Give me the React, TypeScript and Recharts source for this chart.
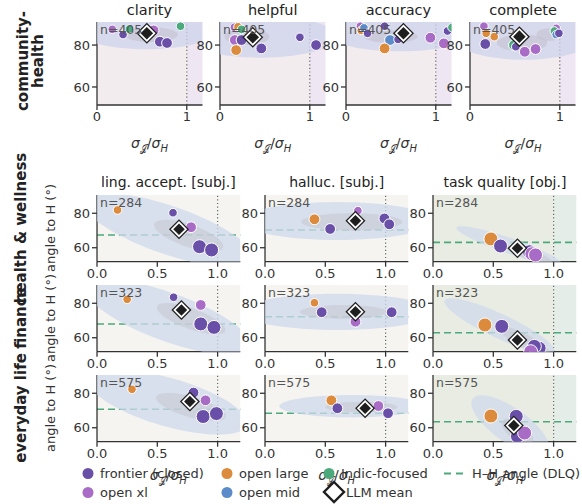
import React from 'react';
import { ScatterChart, Scatter, XAxis, YAxis, ReferenceArea, ReferenceLine } from 'recharts';

const FONT = '"DejaVu Sans", Verdana, sans-serif';

// model groups
const GROUP_COLORS: Record<string, string> = {
  F: '#6a4fa8', // frontier (closed)
  X: '#a86cc6', // open xl
  L: '#dc8a3c', // open large
  M: '#5b8bc9', // open mid
  I: '#4ba97c', // Indic-focused
};
const RADIUS: Record<string, number> = { s: 4.3, m: 5.4, l: 7 };

// top row: community-health
const topMetrics = ['clarity', 'helpful', 'accuracy', 'complete'];
const topN = [405, 405, 405, 405];

const clarityPts = [
  { g: 'X', x: 0.17, y: 87.5, s: 's' },
  { g: 'F', x: 0.29, y: 85, s: 's' },
  { g: 'I', x: 0.36, y: 87.6, s: 's' },
  { g: 'X', x: 0.63, y: 87, s: 'm' },
  { g: 'F', x: 0.7, y: 81.6, s: 'm' },
  { g: 'F', x: 0.78, y: 81, s: 'm' },
  { g: 'I', x: 0.93, y: 89, s: 's' },
];
const helpfulPts = [
  { g: 'X', x: 0.16, y: 88.5, s: 's' },
  { g: 'L', x: 0.2, y: 88.7, s: 's' },
  { g: 'I', x: 0.24, y: 87.5, s: 's' },
  { g: 'X', x: 0.165, y: 82.4, s: 'm' },
  { g: 'F', x: 0.24, y: 82.4, s: 'm' },
  { g: 'L', x: 0.18, y: 77.6, s: 'm' },
  { g: 'F', x: 0.46, y: 78.4, s: 'm' },
  { g: 'F', x: 0.89, y: 83.7, s: 's' },
  { g: 'F', x: 1.07, y: 80, s: 'm' },
];
const accuracyPts = [
  { g: 'X', x: 0.16, y: 89, s: 's' },
  { g: 'L', x: 0.17, y: 87, s: 's' },
  { g: 'M', x: 0.2, y: 88.2, s: 's' },
  { g: 'F', x: 0.24, y: 85.6, s: 's' },
  { g: 'F', x: 0.43, y: 89, s: 's' },
  { g: 'M', x: 0.49, y: 82.4, s: 'm' },
  { g: 'L', x: 0.43, y: 78.4, s: 'm' },
  { g: 'F', x: 0.58, y: 82.7, s: 's' },
  { g: 'X', x: 0.94, y: 83.5, s: 'm' },
  { g: 'X', x: 1.09, y: 80.8, s: 'm' },
  { g: 'F', x: 1.13, y: 86.7, s: 's' },
  { g: 'I', x: 1.18, y: 88.4, s: 's' },
];
const completePts = [
  { g: 'X', x: 0.155, y: 89, s: 's' },
  { g: 'L', x: 0.18, y: 85.6, s: 's' },
  { g: 'L', x: 0.27, y: 84, s: 's' },
  { g: 'F', x: 0.17, y: 80.5, s: 'm' },
  { g: 'I', x: 0.49, y: 80, s: 'm' },
  { g: 'F', x: 0.51, y: 79.2, s: 's' },
  { g: 'X', x: 0.61, y: 76.8, s: 'm' },
  { g: 'X', x: 0.73, y: 78.1, s: 'm' },
  { g: 'X', x: 0.96, y: 88, s: 's' },
  { g: 'I', x: 0.94, y: 86.7, s: 's' },
  { g: 'M', x: 0.96, y: 85, s: 's' },
  { g: 'F', x: 0.99, y: 85.6, s: 's' },
];
const topMeans = [
  { x: 0.555, y: 85.6 },
  { x: 0.365, y: 83.7 },
  { x: 0.64, y: 85.6 },
  { x: 0.55, y: 84 },
];
// density blobs: centre, semi-axes (a in x units, b in y units), tilt in degrees
const topBlobs = [
  [{ x: 0.55, y: 87, a: 0.78, b: 9, t: 0, k: 'o' }, { x: 0.6, y: 85, a: 0.3, b: 3.5, t: 0, k: 'i' }],
  [{ x: 0.45, y: 84, a: 0.85, b: 10, t: 0, k: 'o' }, { x: 0.3, y: 84, a: 0.25, b: 4, t: 0, k: 'i' }],
  [{ x: 0.6, y: 86, a: 0.82, b: 9, t: 0, k: 'o' }, { x: 0.5, y: 84, a: 0.3, b: 3, t: 0, k: 'i' }],
  [{ x: 0.6, y: 84, a: 0.8, b: 11, t: 0, k: 'o' }, { x: 0.58, y: 81, a: 0.28, b: 4, t: 0, k: 'i' }, { x: 0.88, y: 85, a: 0.14, b: 3, t: 0, k: 'i' }],
];

// bottom grid
const domains = ['health & wellness', 'finance', 'everyday life'];
const domainN = [284, 323, 575];
const criteria = ['ling. accept. [subj.]', 'halluc. [subj.]', 'task quality [obj.]'];
const hhAngle = [
  [67.4, 70.3, 63.1],
  [68, 72.2, 62.9],
  [70.7, 68.4, 63.5],
];

const hwLing = [
  { g: 'L', x: 0.17, y: 81.9, s: 's' },
  { g: 'F', x: 0.63, y: 80.3, s: 's' },
  { g: 'X', x: 0.78, y: 71.9, s: 'm' },
  { g: 'F', x: 0.85, y: 60.6, s: 'l' },
  { g: 'F', x: 0.95, y: 58.7, s: 'l' },
];
const hwHall = [
  { g: 'L', x: 0.41, y: 76.5, s: 'm' },
  { g: 'F', x: 0.54, y: 70.9, s: 'm' },
  { g: 'X', x: 0.77, y: 81.5, s: 's' },
  { g: 'F', x: 0.99, y: 77, s: 'm' },
  { g: 'F', x: 1.03, y: 73.6, s: 'm' },
];
const hwTask = [
  { g: 'L', x: 0.48, y: 65.1, s: 'l' },
  { g: 'F', x: 0.56, y: 61, s: 'l' },
  { g: 'F', x: 0.8, y: 57.7, s: 'l' },
  { g: 'X', x: 0.82, y: 56.5, s: 'l' },
  { g: 'X', x: 0.85, y: 55.8, s: 'l' },
];
const finLing = [
  { g: 'L', x: 0.25, y: 82.3, s: 's' },
  { g: 'F', x: 0.635, y: 83.5, s: 's' },
  { g: 'X', x: 0.86, y: 79, s: 'm' },
  { g: 'F', x: 0.86, y: 68, s: 'l' },
  { g: 'F', x: 0.97, y: 66, s: 'l' },
];
const finHall = [
  { g: 'L', x: 0.41, y: 80.3, s: 's' },
  { g: 'F', x: 0.47, y: 74.8, s: 'm' },
  { g: 'X', x: 0.75, y: 69.3, s: 'm' },
  { g: 'F', x: 1.05, y: 74.8, s: 'm' },
];
const finTask = [
  { g: 'L', x: 0.43, y: 67.4, s: 'l' },
  { g: 'F', x: 0.57, y: 66.6, s: 'l' },
  { g: 'F', x: 0.88, y: 53.9, s: 'l' },
  { g: 'F', x: 0.84, y: 55, s: 'l' },
  { g: 'X', x: 0.81, y: 51.9, s: 'l' },
];
const lifeLing = [
  { g: 'L', x: 0.29, y: 82.3, s: 's' },
  { g: 'F', x: 0.8, y: 80.4, s: 'm' },
  { g: 'X', x: 0.9, y: 75.9, s: 'm' },
  { g: 'F', x: 0.88, y: 66.5, s: 'l' },
  { g: 'F', x: 0.99, y: 68.2, s: 'l' },
];
const lifeHall = [
  { g: 'L', x: 0.55, y: 75.9, s: 'm' },
  { g: 'F', x: 0.6, y: 71.3, s: 'm' },
  { g: 'X', x: 0.94, y: 72.6, s: 'm' },
  { g: 'F', x: 1.02, y: 68.4, s: 'm' },
];
const lifeTask = [
  { g: 'L', x: 0.48, y: 66.8, s: 'l' },
  { g: 'F', x: 0.69, y: 66.6, s: 'l' },
  { g: 'F', x: 0.7, y: 55, s: 'l' },
  { g: 'X', x: 0.76, y: 56.9, s: 'l' },
];
const gridPts = [
  [hwLing, hwHall, hwTask],
  [finLing, finHall, finTask],
  [lifeLing, lifeHall, lifeTask],
];
const gridMeans = [
  [{ x: 0.68, y: 70.7 }, { x: 0.75, y: 75.7 }, { x: 0.7, y: 59.7 }],
  [{ x: 0.7, y: 76.1 }, { x: 0.75, y: 75.1 }, { x: 0.7, y: 58.7 }],
  [{ x: 0.77, y: 75.2 }, { x: 0.83, y: 71.3 }, { x: 0.67, y: 61.3 }],
];
const gridBlobs = [
  [
    [{ x: 0.59, y: 70.3, a: 0.74, b: 14, t: 19, k: 'o' }, { x: 0.76, y: 67, a: 0.3, b: 6.5, t: 19, k: 'i' }],
    [{ x: 0.6, y: 75.5, a: 0.8, b: 11, t: 0, k: 'o' }, { x: 0.72, y: 75, a: 0.42, b: 5, t: 0, k: 'i' }],
    [{ x: 0.63, y: 61.2, a: 0.46, b: 4.5, t: 19, k: 'o' }, { x: 0.8, y: 56, a: 0.2, b: 3, t: 19, k: 'i' }],
  ],
  [
    [{ x: 0.59, y: 72, a: 0.72, b: 14, t: 20, k: 'o' }, { x: 0.78, y: 71, a: 0.3, b: 6, t: 20, k: 'i' }],
    [{ x: 0.6, y: 75, a: 0.8, b: 10.5, t: 0, k: 'o' }, { x: 0.65, y: 75, a: 0.36, b: 4, t: 0, k: 'i' }],
    [{ x: 0.55, y: 66.8, a: 0.5, b: 7, t: 25, k: 'o' }, { x: 0.76, y: 58, a: 0.24, b: 4, t: 28, k: 'i' }],
  ],
  [
    [{ x: 0.59, y: 74.8, a: 0.68, b: 14, t: 16, k: 'o' }, { x: 0.78, y: 72, a: 0.3, b: 6, t: 16, k: 'i' }],
    [{ x: 0.72, y: 72.5, a: 0.6, b: 6.5, t: 0, k: 'o' }, { x: 0.8, y: 72, a: 0.3, b: 3, t: 0, k: 'i' }],
    [{ x: 0.64, y: 61.5, a: 0.38, b: 10, t: 35, k: 'o' }, { x: 0.7, y: 58, a: 0.15, b: 5, t: 35, k: 'i' }],
  ],
];

const legendItems = [
  { label: 'frontier (closed)', g: 'F' },
  { label: 'open large', g: 'L' },
  { label: 'Indic-focused', g: 'I' },
  { label: 'H–H angle (DLQ)', g: 'HH' },
  { label: 'open xl', g: 'X' },
  { label: 'open mid', g: 'M' },
  { label: 'LLM mean', g: 'MEAN' },
];

// layout
const TOP_LEFTS = [96.7, 220, 345.7, 470.3];
const TOP_Y = 22;
const TOP_W = 105.5;
const TOP_H = 83;
const COL_LEFTS = [96.7, 265, 433.3];
const ROW_TOPS = [195, 285, 375];
const GRID_W = 143.3;
const GRID_H = 66.7;

const ML = 46;
const MT = 6;
const MR = 6;
const MB = 28;

const diamondPath = (cx: number, cy: number, r: number) =>
  `M${cx},${cy - r}L${cx + r},${cy}L${cx},${cy + r}L${cx - r},${cy}Z`;

type Pt = [number, number];
// clip a polygon to one side of an axis-aligned edge
const clipEdge = (poly: Pt[], inside: (p: Pt) => boolean, cut: (a: Pt, b: Pt) => Pt) => {
  const out: Pt[] = [];
  for (let i = 0; i < poly.length; i++) {
    const cur = poly[i];
    const prev = poly[(i + poly.length - 1) % poly.length];
    if (inside(cur)) {
      if (!inside(prev)) out.push(cut(prev, cur));
      out.push(cur);
    } else if (inside(prev)) {
      out.push(cut(prev, cur));
    }
  }
  return out;
};
const atX = (x: number) => (a: Pt, b: Pt): Pt => [x, a[1] + ((x - a[0]) / (b[0] - a[0])) * (b[1] - a[1])];
const atY = (y: number) => (a: Pt, b: Pt): Pt => [a[0] + ((y - a[1]) / (b[1] - a[1])) * (b[0] - a[0]), y];

const ellipsePath = (cx: number, cy: number, rx: number, ry: number, tilt: number, box: number[]) => {
  const t = (tilt * Math.PI) / 180;
  let poly: Pt[] = [];
  for (let k = 0; k < 72; k++) {
    const th = (k / 72) * Math.PI * 2;
    const lx = rx * Math.cos(th);
    const ly = ry * Math.sin(th);
    poly.push([cx + lx * Math.cos(t) - ly * Math.sin(t), cy + lx * Math.sin(t) + ly * Math.cos(t)]);
  }
  const [x0, y0, x1, y1] = box;
  poly = clipEdge(poly, (p) => p[0] >= x0, atX(x0));
  poly = clipEdge(poly, (p) => p[0] <= x1, atX(x1));
  poly = clipEdge(poly, (p) => p[1] >= y0, atY(y0));
  poly = clipEdge(poly, (p) => p[1] <= y1, atY(y1));
  if (poly.length < 3) return '';
  return 'M' + poly.map((p) => `${p[0].toFixed(2)},${p[1].toFixed(2)}`).join('L') + 'Z';
};

const AxisLabel = ({ x, y }: { x: number; y: number }) => (
  <div
    style={{
      position: 'absolute',
      left: x,
      top: y,
      transform: 'translate(-50%, -50%)',
      fontFamily: FONT,
      fontSize: 14,
      color: '#333',
      whiteSpace: 'nowrap',
    }}
  >
    <i>σ</i>
    <sub style={{ fontSize: 10 }}>𝒥</sub>/<i>σ</i>
    <sub style={{ fontSize: 10 }}>
      <i>H</i>
    </sub>
  </div>
);

const VText = ({ x, y, size, bold, children }: any) => (
  <div
    style={{
      position: 'absolute',
      left: x,
      top: y,
      transform: 'translate(-50%, -50%) rotate(-90deg)',
      fontFamily: FONT,
      fontSize: size,
      fontWeight: bold ? 'bold' : 'normal',
      color: bold ? '#222' : '#333',
      whiteSpace: 'nowrap',
      textAlign: 'center',
      lineHeight: 1,
    }}
  >
    {children}
  </div>
);

interface PanelProps {
  id: string;
  left: number;
  top: number;
  w: number;
  h: number;
  xMax: number;
  yDomain: [number, number];
  xTicks: number[];
  fmt: (v: number) => string;
  pts: any[];
  mean: { x: number; y: number };
  blobs: any[];
  hh?: number;
  n: number;
  bgL: string;
  bgR: string;
  blobOuter: string;
  blobInner: string;
  meanR: number;
}

const Panel = (props: PanelProps) => {
  const { left, top, w, h, xMax, yDomain, xTicks, fmt, pts, mean, blobs, hh, n, bgL, bgR, blobOuter, blobInner, meanR } = props;
  const kx = w / xMax;
  const ky = h / (yDomain[1] - yDomain[0]);
  const box = [ML, MT, ML + w, MT + h];

  const blobShape = (p: any) => {
    const d = p.payload ?? p;
    return (
      <path
        d={ellipsePath(p.cx, p.cy, d.a * kx, d.b * ky, d.t, box)}
        fill={d.k === 'o' ? blobOuter : blobInner}
        fillOpacity={d.k === 'o' ? 0.75 : 0.6}
      />
    );
  };
  const dotShape = (p: any) => {
    const d = p.payload ?? p;
    return <circle cx={p.cx} cy={p.cy} r={RADIUS[d.s]} fill={GROUP_COLORS[d.g]} stroke="#fff" strokeWidth={1} />;
  };
  const meanShape = (p: any) => (
    <g>
      <path d={diamondPath(p.cx, p.cy, meanR)} fill="#1e1e1e" />
      <path d={diamondPath(p.cx, p.cy, meanR - 1.8)} fill="#fff" />
      <path d={diamondPath(p.cx, p.cy, meanR - 4.2)} fill="#1e1e1e" />
    </g>
  );

  const axisStyle = { stroke: '#333', strokeWidth: 1.3 };
  const tickStyle = { fill: '#333', fontSize: 13, fontFamily: FONT };

  return (
    <div style={{ position: 'absolute', left: left - ML, top: top - MT }}>
      <ScatterChart width={w + ML + MR} height={h + MT + MB} margin={{ top: MT, right: MR, bottom: 0, left: 0 }}>
        <XAxis
          type="number"
          dataKey="x"
          domain={[0, xMax]}
          ticks={xTicks}
          tickFormatter={fmt}
          allowDataOverflow
          height={MB}
          axisLine={axisStyle}
          tickLine={axisStyle}
          tickSize={5}
          tick={tickStyle}
          interval={0}
        />
        <YAxis
          type="number"
          dataKey="y"
          domain={yDomain}
          ticks={[60, 80]}
          allowDataOverflow
          width={ML}
          axisLine={axisStyle}
          tickLine={axisStyle}
          tickSize={5}
          tick={tickStyle}
          interval={0}
        />
        <ReferenceArea
          x1={0}
          x2={1}
          y1={yDomain[0]}
          y2={yDomain[1]}
          fill={bgL}
          fillOpacity={1}
          stroke="none"
          label={{ value: `n=${n}`, position: 'insideTopLeft', offset: 3, fill: '#555', fontSize: 12.5, fontFamily: FONT }}
        />
        <ReferenceArea x1={1} x2={xMax} y1={yDomain[0]} y2={yDomain[1]} fill={bgR} fillOpacity={1} stroke="none" />
        <Scatter data={blobs} shape={blobShape} isAnimationActive={false} />
        <ReferenceLine x={1} stroke="#666" strokeWidth={1.2} strokeDasharray="1.2 2.4" />
        {hh != null && <ReferenceLine y={hh} stroke="#4ba97c" strokeWidth={1.6} strokeDasharray="7 4" />}
        <Scatter data={pts} shape={dotShape} isAnimationActive={false} />
        <Scatter data={[mean]} shape={meanShape} isAnimationActive={false} />
      </ScatterChart>
    </div>
  );
};

const LegendMarker = ({ g }: { g: string }) => {
  if (g === 'HH') {
    return (
      <svg width={24} height={12}>
        <line x1={1} y1={6} x2={23} y2={6} stroke="#4ba97c" strokeWidth={1.8} strokeDasharray="7 5" />
      </svg>
    );
  }
  if (g === 'MEAN') {
    return (
      <svg width={24} height={24}>
        <path d={diamondPath(12, 12, 10)} fill="#fff" stroke="#1e1e1e" strokeWidth={2.4} />
      </svg>
    );
  }
  return (
    <svg width={14} height={14}>
      <circle cx={7} cy={7} r={5.5} fill={GROUP_COLORS[g]} />
    </svg>
  );
};

const LEGEND_POS = [
  { x: 88, y: 473 },
  { x: 227, y: 473 },
  { x: 329, y: 473 },
  { x: 450, y: 473 },
  { x: 88, y: 492 },
  { x: 227, y: 492 },
  { x: 329, y: 492 },
];

export default function App() {
  const topFmt = (v: number) => String(v);
  const gridFmt = (v: number) => v.toFixed(1);
  return (
    <div style={{ position: 'absolute', left: 0, top: 0, width: 582, height: 504, background: '#fff', overflow: 'hidden', fontFamily: FONT }}>
      {/* grid x labels sit under the next row's axes, as in the source layout */}
      {ROW_TOPS.map((t) => COL_LEFTS.map((l) => <AxisLabel key={`${t}-${l}`} x={l + GRID_W / 2} y={t + GRID_H + 35} />))}

      {/* top row */}
      {topMetrics.map((m, i) => (
        <React.Fragment key={m}>
          <Panel
            id={`top${i}`}
            left={TOP_LEFTS[i]}
            top={TOP_Y}
            w={TOP_W}
            h={TOP_H}
            xMax={1.175}
            yDomain={[51.4, 91]}
            xTicks={[0, 1]}
            fmt={topFmt}
            pts={[clarityPts, helpfulPts, accuracyPts, completePts][i]}
            mean={topMeans[i]}
            blobs={topBlobs[i]}
            n={topN[i]}
            bgL="#f2ecee"
            bgR="#eee6f2"
            blobOuter="#cdd3ec"
            blobInner="#c3c1d0"
            meanR={10.5}
          />
          <div
            style={{
              position: 'absolute',
              left: TOP_LEFTS[i] + TOP_W / 2,
              top: 10,
              transform: 'translate(-50%, -50%)',
              fontSize: 14.5,
              color: '#222',
              whiteSpace: 'nowrap',
            }}
          >
            {m}
          </div>
          <AxisLabel x={TOP_LEFTS[i] + TOP_W / 2} y={145} />
        </React.Fragment>
      ))}

      {/* bottom grid */}
      {domains.map((dname, r) =>
        criteria.map((c, ci) => (
          <Panel
            key={`${r}-${ci}`}
            id={`g${r}${ci}`}
            left={COL_LEFTS[ci]}
            top={ROW_TOPS[r]}
            w={GRID_W}
            h={GRID_H}
            xMax={1.188}
            yDomain={[51.9, 90.6]}
            xTicks={[0, 0.5, 1]}
            fmt={gridFmt}
            pts={gridPts[r][ci]}
            mean={gridMeans[r][ci]}
            blobs={gridBlobs[r][ci]}
            hh={hhAngle[r][ci]}
            n={domainN[r]}
            bgL={ci === 2 ? '#e9ece3' : '#f5f4f0'}
            bgR={ci === 2 ? '#e5ede8' : '#f5f4f0'}
            blobOuter="#cfd9ec"
            blobInner="#c4c8d2"
            meanR={10}
          />
        ))
      )}
      {criteria.map((c, ci) => (
        <div
          key={c}
          style={{
            position: 'absolute',
            left: COL_LEFTS[ci] + GRID_W / 2,
            top: 182,
            transform: 'translate(-50%, -50%)',
            fontSize: 14,
            color: '#222',
            whiteSpace: 'nowrap',
          }}
        >
          {c}
        </div>
      ))}

      {/* row labels */}
      <VText x={31} y={61} size={15} bold>
        community-
        <br />
        health
      </VText>
      {domains.map((dname, r) => (
        <VText key={dname} x={21} y={ROW_TOPS[r] + GRID_H / 2} size={15} bold>
          {dname}
        </VText>
      ))}
      {ROW_TOPS.map((t) => (
        <VText key={t} x={50} y={t + GRID_H / 2} size={13}>
          angle to H (°)
        </VText>
      ))}

      {/* legend */}
      {legendItems.map((it, i) => (
        <div
          key={it.label}
          style={{
            position: 'absolute',
            left: LEGEND_POS[i].x,
            top: LEGEND_POS[i].y,
            transform: 'translate(-7px, -50%)',
            display: 'flex',
            alignItems: 'center',
            gap: it.g === 'MEAN' ? 0 : 5,
            fontSize: 13,
            color: '#333',
            whiteSpace: 'nowrap',
          }}
        >
          <LegendMarker g={it.g} />
          <span>{it.label}</span>
        </div>
      ))}
    </div>
  );
}
